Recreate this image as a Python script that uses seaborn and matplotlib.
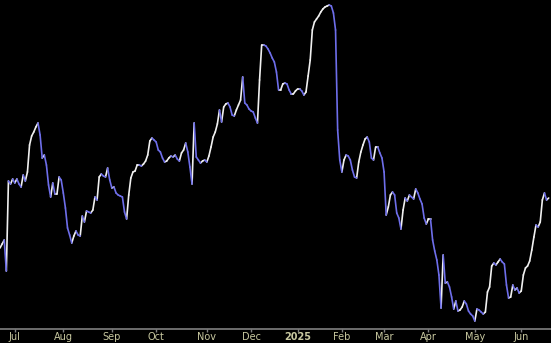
import matplotlib
matplotlib.use("Agg")
import matplotlib.pyplot as plt
import numpy as np
import pandas as pd
import seaborn as sns

# Daily closing values (one per trading session)
prices = [
    75.2, 75.6, 76.0, 72.9, 81.9, 81.6, 82.1, 81.7, 82.1, 81.6,
    81.3, 82.5, 81.9, 82.8, 85.5, 86.4, 86.8, 87.3, 87.7, 86.5,
    84.2, 84.5, 83.5, 81.5, 80.3, 81.7, 80.6, 80.6, 82.3, 82.0,
    80.7, 79.2, 77.2, 76.5, 75.7, 76.4, 76.9, 76.5, 76.4, 78.4,
    77.8, 78.9, 78.8, 78.7, 79.0, 80.3, 80.0, 82.3, 82.6, 82.4,
    82.3, 83.2, 82.0, 81.2, 81.3, 80.7, 80.5, 80.4, 80.3, 78.8,
    78.1, 80.5, 82.2, 82.8, 82.9, 83.5, 83.5, 83.4, 83.6, 83.9,
    84.5, 85.9, 86.2, 86.0, 85.8, 85.0, 84.8, 84.2, 83.8, 83.9,
    84.2, 84.4, 84.3, 84.5, 84.1, 83.9, 84.7, 85.0, 85.7, 84.8,
    83.3, 81.6, 87.7, 84.3, 84.0, 83.7, 83.9, 84.0, 83.8, 84.4,
    85.3, 86.3, 86.8, 87.6, 89.0, 87.8, 89.3, 89.6, 89.7, 89.3,
    88.5, 88.4, 89.0, 89.5, 90.0, 92.3, 89.7, 89.5, 89.1, 88.9,
    88.8, 88.2, 87.7, 92.0, 95.5, 95.5, 95.4, 95.1, 94.7, 94.2,
    93.8, 92.8, 91.0, 91.0, 91.6, 91.7, 91.6, 91.0, 90.6, 90.6,
    90.9, 91.1, 91.1, 90.9, 90.5, 90.8, 92.4, 94.0, 97.0, 97.8,
    98.1, 98.4, 98.8, 99.1, 99.3, 99.4, 99.5, 99.4, 98.7, 97.0,
    87.0, 84.0, 82.8, 84.0, 84.5, 84.4, 84.0, 83.0, 82.3, 82.2,
    83.8, 84.8, 85.5, 86.1, 86.3, 85.8, 84.2, 84.0, 85.3, 85.3,
    84.7, 84.2, 82.8, 78.5, 79.3, 80.5, 80.8, 80.5, 78.7, 78.2,
    77.1, 79.0, 80.2, 79.9, 80.5, 80.3, 80.1, 81.1, 80.7, 80.1,
    79.6, 78.2, 77.6, 78.1, 78.1, 76.0, 74.9, 74.0, 72.5, 69.2,
    74.5, 71.7, 71.8, 71.3, 70.3, 69.1, 69.9, 68.9, 69.0, 69.3,
    69.9, 69.6, 68.9, 68.6, 68.4, 67.9, 69.1, 69.0, 68.8, 68.6,
    68.8, 70.8, 71.3, 73.4, 73.7, 73.5, 73.8, 74.1, 73.8, 73.6,
    71.5, 70.2, 70.3, 71.5, 71.0, 71.2, 70.7, 70.9, 72.5, 73.2,
    73.4, 73.9, 75.0, 76.3, 77.5, 77.3, 77.8, 80.0, 80.7, 80.0,
    80.2,
]

# Session index of the first trading day of each month, and its label
month_start_session = [7, 30, 53, 74, 98, 119, 141, 162, 182, 203, 225, 247]
month_labels = ["Jul", "Aug", "Sep", "Oct", "Nov", "Dec", "2025",
                "Feb", "Mar", "Apr", "May", "Jun"]

UP_COLOR = "#f0f0f0"
DOWN_COLOR = "#6e6eea"

sns.set_theme(style="dark", rc={
    "axes.facecolor": "black",
    "figure.facecolor": "black",
    "savefig.facecolor": "black",
})
plt.rcParams["font.family"] = ["DejaVu Sans"]

# Long-form table: each consecutive pair of sessions is one segment,
# coloured by direction of the move
rows = []
for i in range(len(prices) - 1):
    direction = "up" if prices[i + 1] >= prices[i] else "down"
    rows.append({"seg": i, "session": i, "price": prices[i], "dir": direction})
    rows.append({"seg": i, "session": i + 1, "price": prices[i + 1], "dir": direction})
df = pd.DataFrame(rows)

fig = plt.figure(figsize=(5.51, 3.43), dpi=100)
ax = fig.add_axes([0.0, 14 / 343, 1.0, 329 / 343])

sns.lineplot(
    data=df, x="session", y="price", hue="dir", units="seg",
    estimator=None, sort=False, legend=False,
    palette={"up": UP_COLOR, "down": DOWN_COLOR},
    linewidth=1.2, solid_capstyle="round", ax=ax,
)

ax.set_xlim(0, 261.1)
ax.set_ylim(67.1, 100.0)
ax.set_xticks(month_start_session)
ax.set_xticklabels(month_labels)
for lbl in ax.get_xticklabels():
    if lbl.get_text() == "2025":
        lbl.set_fontweight("bold")
ax.set_yticks([])
ax.set_xlabel("")
ax.set_ylabel("")
ax.grid(False)
for side in ("top", "left", "right"):
    ax.spines[side].set_visible(False)
ax.spines["bottom"].set_visible(True)
ax.spines["bottom"].set_color("#808080")
ax.spines["bottom"].set_linewidth(1.2)
ax.tick_params(axis="x", bottom=True, colors="#808080", length=2, width=1,
               direction="out", pad=0.5, labelsize=7, labelcolor="#c8c8a0")

fig.savefig("out.png", dpi=100, facecolor="black")
